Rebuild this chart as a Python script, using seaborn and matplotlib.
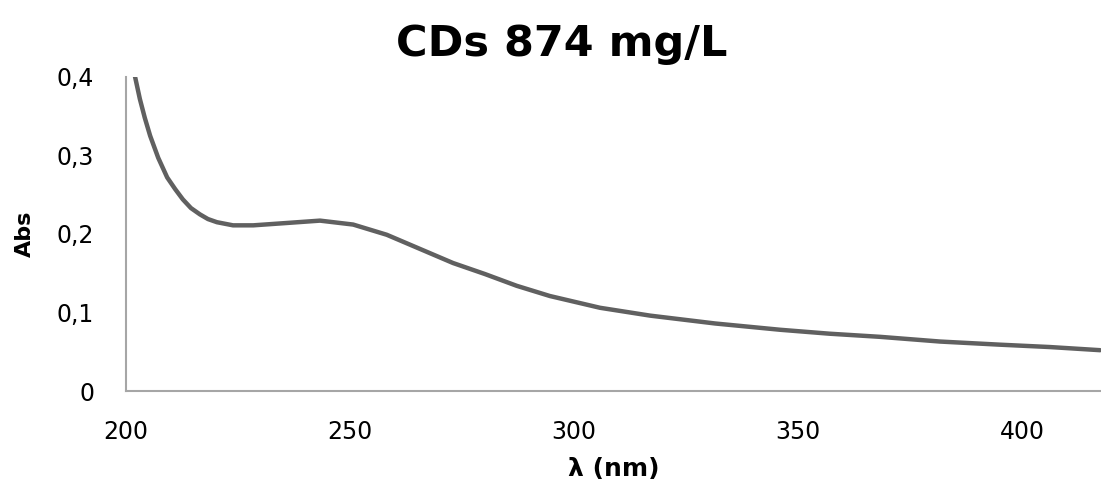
# UV-Vis absorbance spectrum of the carbon dots sample

import matplotlib.pyplot as plt
import matplotlib.ticker as mticker
import numpy as np
import pandas as pd
import seaborn as sns

# values
wavelength = [202.0, 203.1, 204.2, 205.4, 207.2, 209.2, 211.0, 212.7, 214.5, 216.5,
              218.3, 220.3, 223.9, 228.4, 235.9, 243.3, 250.7, 258.2, 265.6, 273.0,
              280.1, 287.2, 294.6, 305.8, 317.0, 331.5, 346.0, 357.0, 368.3, 381.7,
              395.1, 406.2, 417.4]
absorbance = [0.401, 0.372, 0.348, 0.325, 0.297, 0.272, 0.257, 0.244, 0.233, 0.225,
              0.219, 0.215, 0.211, 0.211, 0.214, 0.217, 0.212, 0.199, 0.181, 0.163,
              0.149, 0.134, 0.121, 0.106, 0.096, 0.086, 0.078, 0.073, 0.069, 0.063,
              0.059, 0.056, 0.052]

x_ticks = [200, 250, 300, 350, 400]
y_ticks = [0, 0.1, 0.2, 0.3, 0.4]
y_tick_labels = ["0", "0,1", "0,2", "0,3", "0,4"]

title = "CDs 874 mg/L"
x_label = "λ (nm)"
y_label = "Abs"

sns.set_style("white")
plt.rcParams['font.family'] = ['DejaVu Sans']
plt.rcParams['text.color'] = 'black'
plt.rcParams['axes.labelcolor'] = 'black'

df = pd.DataFrame({"wavelength": wavelength, "absorbance": absorbance})

fig = plt.figure(figsize=(11.01, 4.90), dpi=100)
ax = fig.add_axes([0.1144, 0.202, 0.8856, 0.641])

sns.lineplot(data=df, x="wavelength", y="absorbance", ax=ax,
             color="#606060", linewidth=3.2, sort=True)

ax.set_xlim(200, 417.6)
ax.set_ylim(0, 0.4)
ax.set_xticks(x_ticks)
ax.set_yticks(y_ticks)
ax.set_yticklabels(y_tick_labels)
ax.xaxis.set_major_formatter(mticker.FormatStrFormatter("%d"))
ax.tick_params(axis="both", length=0, labelsize=17, colors="black")
ax.tick_params(axis="x", pad=21)
ax.tick_params(axis="y", pad=23)

for side in ["top", "right"]:
    ax.spines[side].set_visible(False)
for side in ["left", "bottom"]:
    ax.spines[side].set_color("#a6a6a6")
    ax.spines[side].set_linewidth(1.5)

ax.set_xlabel(x_label, fontsize=18, fontweight="bold", labelpad=9)
ax.set_ylabel(y_label, fontsize=16, fontweight="bold", labelpad=16)

fig.text(0.51, 0.91, title, ha="center", va="center", fontsize=31, fontweight="bold")

fig.savefig("out.png", dpi=100, facecolor="white")
